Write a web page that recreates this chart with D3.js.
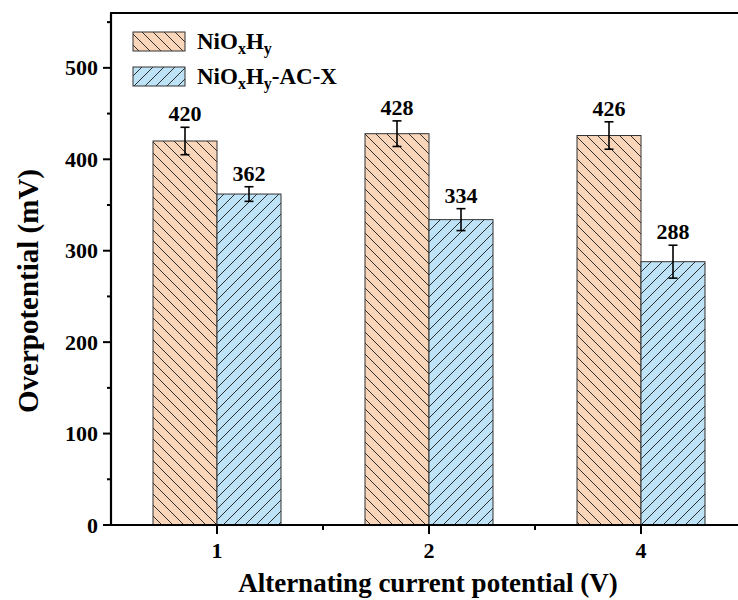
<!DOCTYPE html>
<html>
<head>
<meta charset="utf-8">
<script src="https://cdn.jsdelivr.net/npm/d3@7"></script>
<style>
  html, body { margin: 0; padding: 0; background: #fff; }
  svg { display: block; }
</style>
</head>
<body>
<svg id="chart" width="738" height="600" font-family="'Liberation Serif', 'Times New Roman', Times, serif" font-weight="bold"></svg>
<script>
// Alternating current potential categories (V)
const categories = ["1", "2", "4"];
// Overpotential (mV), mean and error
const seriesNames = ["NiOxHy", "NiOxHy-AC-X"];
const pristineValues = [420, 428, 426];
const pristineErrors = [15, 14, 15];
const treatedValues = [362, 334, 288];
const treatedErrors = [8, 12, 18];
const yTicks = [0, 100, 200, 300, 400, 500];

const svg = d3.select("#chart");
const plotLeft = 111, plotBottom = 525, plotTop = 13, plotRight = 747;

const x = d3.scaleBand().domain(categories).range([plotLeft, plotRight]).paddingInner(0).paddingOuter(0);
const y = d3.scaleLinear().domain([0, 560]).range([plotBottom, plotTop]);
const barW = 64;

const series = [
  { name: seriesNames[0], values: pristineValues, errors: pristineErrors, fill: "#F9D6BA", hatch: "back", offset: -barW },
  { name: seriesNames[1], values: treatedValues, errors: treatedErrors, fill: "#BEE3F6", hatch: "fwd", offset: 0 }
];

// hatch patterns
const defs = svg.append("defs");
const s = 11;
function hatch(id, fill, dir) {
  const p = defs.append("pattern").attr("id", id).attr("patternUnits", "userSpaceOnUse")
    .attr("width", s).attr("height", s);
  p.append("rect").attr("width", s).attr("height", s).attr("fill", fill);
  const d = dir === "back"
    ? `M0,0L${s},${s}M${-2},${s - 2}L2,${s + 2}M${s - 2},-2L${s + 2},2`
    : `M0,${s}L${s},0M-2,2L2,-2M${s - 2},${s + 2}L${s + 2},${s - 2}`;
  p.append("path").attr("d", d).attr("stroke", "#1a1a1a").attr("stroke-width", 0.9).attr("fill", "none");
}
hatch("hatch-back", series[0].fill, "back");
hatch("hatch-fwd", series[1].fill, "fwd");

// bars, error bars, value labels
series.forEach(sr => {
  const g = svg.append("g");
  categories.forEach((c, i) => {
    const cx = x(c) + x.bandwidth() / 2;
    const x0 = cx + sr.offset;
    const v = sr.values[i], e = sr.errors[i];
    g.append("rect").attr("x", x0).attr("y", y(v)).attr("width", barW).attr("height", plotBottom - y(v))
      .attr("fill", `url(#hatch-${sr.hatch})`).attr("stroke", "#333").attr("stroke-width", 1);
    const mx = x0 + barW / 2;
    g.append("line").attr("x1", mx).attr("x2", mx).attr("y1", y(v + e)).attr("y2", y(v - e))
      .attr("stroke", "#000").attr("stroke-width", 1.6);
    [v + e, v - e].forEach(t => g.append("line").attr("x1", mx - 4.5).attr("x2", mx + 4.5)
      .attr("y1", y(t)).attr("y2", y(t)).attr("stroke", "#000").attr("stroke-width", 1.6));
    g.append("text").attr("x", mx).attr("y", y(v + e) - 6).attr("text-anchor", "middle")
      .attr("font-size", 22).text(v);
  });
});

// y axis
const yAxis = svg.append("g");
yAxis.append("line").attr("x1", plotLeft).attr("x2", plotLeft).attr("y1", plotTop).attr("y2", plotBottom + 1)
  .attr("stroke", "#000").attr("stroke-width", 2.2);
d3.range(0, 551, 50).forEach(t => {
  const major = t % 100 === 0;
  yAxis.append("line").attr("x1", plotLeft - (major ? 8 : 4)).attr("x2", plotLeft)
    .attr("y1", y(t)).attr("y2", y(t)).attr("stroke", "#000").attr("stroke-width", 2);
});
yTicks.forEach(t => yAxis.append("text").attr("x", plotLeft - 13).attr("y", y(t) + 7.5)
  .attr("text-anchor", "end").attr("font-size", 22).text(t));

// x axis
const xAxis = svg.append("g");
xAxis.append("line").attr("x1", plotLeft - 1).attr("x2", plotRight).attr("y1", plotBottom).attr("y2", plotBottom)
  .attr("stroke", "#000").attr("stroke-width", 2.2);
categories.forEach((c, i) => {
  const cx = x(c) + x.bandwidth() / 2;
  xAxis.append("line").attr("x1", cx).attr("x2", cx).attr("y1", plotBottom).attr("y2", plotBottom + 9)
    .attr("stroke", "#000").attr("stroke-width", 2);
  xAxis.append("text").attr("x", cx).attr("y", plotBottom + 33).attr("text-anchor", "middle")
    .attr("font-size", 22).text(c);
  if (i < categories.length - 1) {
    const mx = x(c) + x.bandwidth();
    xAxis.append("line").attr("x1", mx).attr("x2", mx).attr("y1", plotBottom).attr("y2", plotBottom + 5)
      .attr("stroke", "#000").attr("stroke-width", 2);
  }
});
// top frame
svg.append("line").attr("x1", plotLeft - 1).attr("x2", plotRight).attr("y1", plotTop).attr("y2", plotTop)
  .attr("stroke", "#000").attr("stroke-width", 2.2);

// axis titles
svg.append("text").attr("x", 428).attr("y", 592).attr("text-anchor", "middle")
  .attr("font-size", 27).text("Alternating current potential (V)");
svg.append("text").attr("transform", "translate(38,291) rotate(-90)").attr("text-anchor", "middle")
  .attr("font-size", 29).text("Overpotential (mV)");

// legend
const legend = svg.append("g");
series.forEach((sr, i) => {
  const ly = 32 + i * 35;
  legend.append("rect").attr("x", 133).attr("y", ly).attr("width", 52).attr("height", 19)
    .attr("fill", `url(#hatch-${sr.hatch})`).attr("stroke", "#333").attr("stroke-width", 1);
  const t = legend.append("text").attr("x", 197).attr("y", ly + 17).attr("font-size", 23);
  t.append("tspan").text("NiO");
  t.append("tspan").attr("font-size", 16).attr("dy", 5).text("x");
  t.append("tspan").attr("dy", -5).text("H");
  t.append("tspan").attr("font-size", 16).attr("dy", 5).text("y");
  if (i === 1) t.append("tspan").attr("dy", -5).text("-AC-X");
});
</script>
</body>
</html>
